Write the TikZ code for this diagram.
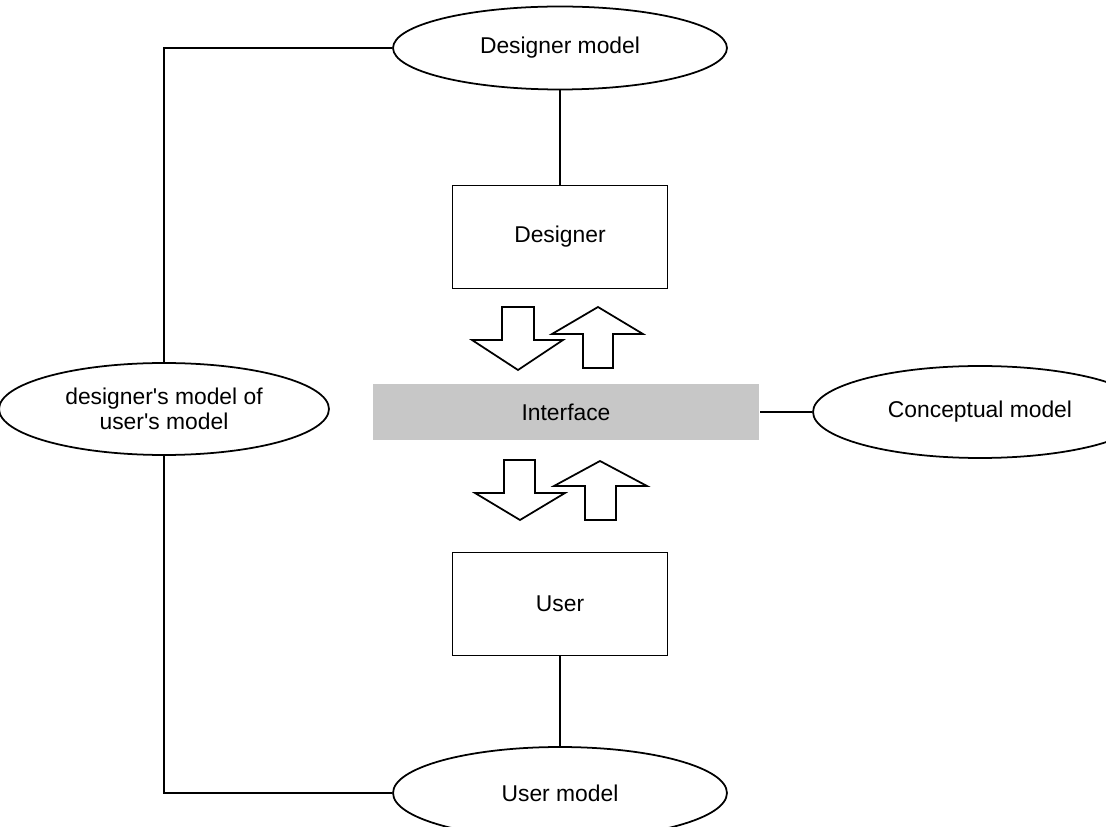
\documentclass[tikz,border=0pt]{standalone}
\usepackage{fontspec}
\setmainfont{Liberation Sans}
\usetikzlibrary{shapes.geometric}
\tikzset{
  model/.style={draw, ellipse, inner sep=0pt, minimum width=6.68cm, minimum height=1.84cm, align=center},
  actor/.style={draw, rectangle, minimum width=4.3cm, minimum height=2.06cm},
  iface/.style={fill=black!22, minimum width=7.74cm, minimum height=1.14cm},
  blockarrow/.style={draw, fill=white, line join=miter},
}
\begin{document}
\begin{tikzpicture}[x=0.02cm, y=-0.02cm, line width=1pt, font=\fontsize{13}{14.5}\selectfont]
  \useasboundingbox (0,0) rectangle (1106,827);
  \node[model, minimum height=1.66cm] (dm) at (560,48) {Designer model};
  \node[actor] (ds) at (560,237) {Designer};
  \node[iface] (if) at (566,412) {Interface};
  \node[model] (cm) at (980,412) {Conceptual model};
  \node[model, minimum width=6.6cm] (dum) at (164,409) {designer\textquotesingle s model of\\user\textquotesingle s model};
  \node[actor] (us) at (560,604) {User};
  \node[model] (um) at (560,793) {User model};
  % links
  \draw (dm.west) -| (dum.north);
  \draw (dum.south) |- (um.west);
  \draw (dm.south) -- (ds.north);
  \draw (us.south) -- (um.north);
  \draw (if.east) -- (cm.west);
  % block arrows
  \draw[blockarrow] (502,307) -- (534,307) -- (534,340) -- (563,340) -- (518,370) -- (472,340) -- (502,340) -- cycle;
  \draw[blockarrow] (598,307) -- (643,334) -- (613,334) -- (613,368) -- (583,368) -- (583,334) -- (552,334) -- cycle;
  \draw[blockarrow] (504,460) -- (535,460) -- (535,493) -- (565,493) -- (520,520) -- (475,493) -- (504,493) -- cycle;
  \draw[blockarrow] (600,461) -- (647,486) -- (616,486) -- (616,520) -- (585,520) -- (585,486) -- (554,486) -- cycle;
\end{tikzpicture}
\end{document}
